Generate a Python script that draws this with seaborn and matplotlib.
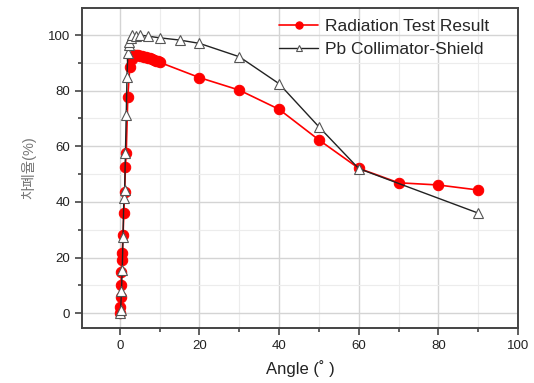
import pandas as pd
import matplotlib
matplotlib.use("Agg")
import matplotlib.pyplot as plt
from matplotlib.ticker import MultipleLocator
import seaborn as sns

# Data
angle_test = [0, 0.1, 0.2, 0.3, 0.4, 0.5, 0.6, 0.8, 1.0, 1.2, 1.4, 1.6,
              2.0, 2.5, 3.0, 3.5, 4.0, 4.5, 5.0, 5.5, 6.0, 6.5, 7.0, 7.5,
              8.0, 8.5, 9.0, 9.5, 10, 20, 30, 40, 50, 60, 70, 80, 90]
rate_test = [0, 2.4, 6, 10, 15, 19, 21.6, 28, 36, 43.7, 52.7, 57.5,
             77.8, 88.6, 91.5, 92.8, 93, 92.8, 92.6, 92.4, 92.2, 92, 91.8, 91.6,
             91.3, 91.1, 90.8, 90.5, 90.2, 84.7, 80.2, 73.3, 62.3, 52.1, 46.9, 46.1, 44.3]

angle_pb = [0, 0.2, 0.4, 0.6, 0.8, 1.0, 1.2, 1.4, 1.6, 1.8, 2.0, 2.2, 2.4,
            2.7, 3.0, 4.0, 5.0, 7.0, 10, 15, 20, 30, 40, 50, 60, 90]
rate_pb = [0, 1.2, 8, 15.6, 27.5, 41.3, 44.3, 57.5, 71.3, 85, 93.4, 96.5, 97.6,
           99, 100, 99.6, 100, 99.6, 99, 98.2, 97, 92.2, 82.5, 67, 52, 36]

df_test = pd.DataFrame({"angle": angle_test, "rate": rate_test})
df_pb = pd.DataFrame({"angle": angle_pb, "rate": rate_pb})

sns.set_style("white")
plt.rcParams["font.family"] = ["Liberation Sans", "Noto Sans CJK KR", "DejaVu Sans"]

fig = plt.figure(figsize=(5.34, 3.83), dpi=100)
ax = fig.add_axes([0.1536, 0.1436, 0.8164, 0.8354])

sns.lineplot(data=df_test, x="angle", y="rate", ax=ax, sort=False, estimator=None,
             color="#ff0000", lw=1.2, marker="o", markersize=7.5,
             markeredgecolor="#ff0000", label="Radiation Test Result", zorder=3)
sns.lineplot(data=df_pb, x="angle", y="rate", ax=ax, sort=False, estimator=None,
             color="#222222", lw=1.0, marker="^", markersize=6.5,
             markerfacecolor="white", markeredgecolor="#555555", markeredgewidth=0.8,
             label="Pb Collimator-Shield", zorder=4)

ax.set_xlim(-9.5, 100)
ax.set_ylim(-5.3, 109.7)
ax.xaxis.set_major_locator(MultipleLocator(20))
ax.xaxis.set_minor_locator(MultipleLocator(10))
ax.yaxis.set_major_locator(MultipleLocator(20))
ax.yaxis.set_minor_locator(MultipleLocator(10))

ax.grid(which="major", color="#d4d4d4", lw=1.0)
ax.grid(which="minor", color="#ececec", lw=0.8)
ax.set_axisbelow(True)

ax.tick_params(which="major", direction="out", length=5, width=1.2,
               color="#444444", labelsize=9.5, labelcolor="#222222",
               bottom=True, left=True, top=False, right=False)
ax.tick_params(which="minor", direction="out", length=3, width=1.2,
               color="#444444", bottom=True, left=True, top=False, right=False)
for s in ax.spines.values():
    s.set_color("#444444")
    s.set_linewidth(1.4)

ax.set_xlabel("Angle (˚ )", fontsize=12, color="#222222", labelpad=6)
ax.set_ylabel("차폐율(%)", fontsize=10.5, color="#777777", labelpad=8)

ax.legend(loc="upper left", bbox_to_anchor=(0.427, 1.0), frameon=False,
          fontsize=12.5, handlelength=2.2, handletextpad=0.4, labelspacing=0.4,
          borderaxespad=0.25, markerscale=0.7)

fig.savefig("out.png", dpi=100)
